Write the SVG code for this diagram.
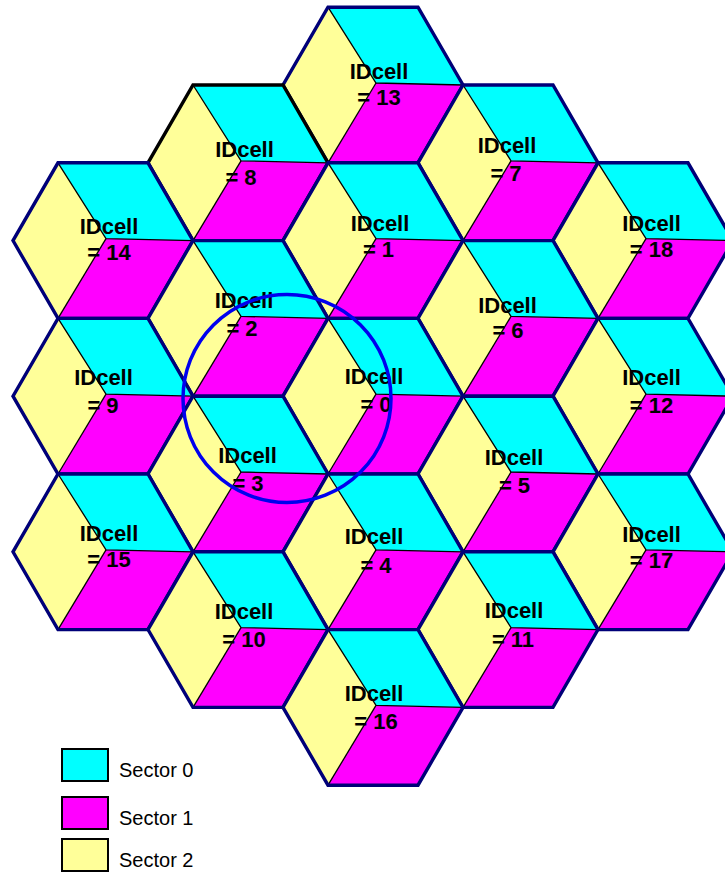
<svg xmlns="http://www.w3.org/2000/svg" xmlns:xlink="http://www.w3.org/1999/xlink" width="725" height="873" viewBox="0 0 725 873">
<style>
.s0{fill:#00FFFF}
.s1{fill:#FF00FF}
.s2{fill:#FFFF99}
.div{fill:none;stroke:#000;stroke-width:1.3}
.ol{stroke:#000078;stroke-width:3.4;stroke-linejoin:miter}
.ol.blk{stroke:#000}
.lbl{font-family:"Liberation Sans",Arial,sans-serif;font-weight:bold;font-size:22px;fill:#000;text-anchor:middle}
.leg{font-family:"Liberation Sans",Arial,sans-serif;font-size:20px;fill:#000}
.legbox{stroke:#000;stroke-width:2}
</style>
<defs>
<g id="sectors">
<polygon class="s0" points="-45,-77.8 45,-77.8 90,0 3,-2"/>
<polygon class="s1" points="3,-2 90,0 45,77.8 -45,77.8"/>
<polygon class="s2" points="-45,-77.8 3,-2 -45,77.8 -90,0"/>
<polyline class="div" points="-45,-77.8 3,-2 90,0"/>
<line class="div" x1="3" y1="-2" x2="-45" y2="77.8"/>
</g>
<polygon id="hex" fill="none" points="-45,-77.8 45,-77.8 90,0 45,77.8 -45,77.8 -90,0"/>
</defs>
<rect width="725" height="873" fill="#fff"/>
<g id="cells">
<g id="cell13"><use xlink:href="#sectors" x="373" y="85"/><use class="ol" xlink:href="#hex" x="373" y="85"/><text class="lbl" x="379" y="79">IDcell</text><text class="lbl" x="379" y="105">= 13</text></g>
<g id="cell8"><use xlink:href="#sectors" x="238" y="162.8"/><use class="ol blk" xlink:href="#hex" x="238" y="162.8"/><text class="lbl" x="244.5" y="157">IDcell</text><text class="lbl" x="241" y="185">= 8</text></g>
<g id="cell7"><use xlink:href="#sectors" x="508" y="162.8"/><use class="ol" xlink:href="#hex" x="508" y="162.8"/><text class="lbl" x="507" y="153">IDcell</text><text class="lbl" x="506" y="181">= 7</text></g>
<g id="cell14"><use xlink:href="#sectors" x="103" y="240.6"/><use class="ol" xlink:href="#hex" x="103" y="240.6"/><text class="lbl" x="109" y="234">IDcell</text><text class="lbl" x="109" y="260">= 14</text></g>
<g id="cell1"><use xlink:href="#sectors" x="373" y="240.6"/><use class="ol" xlink:href="#hex" x="373" y="240.6"/><text class="lbl" x="380" y="231">IDcell</text><text class="lbl" x="378.5" y="257">= 1</text></g>
<g id="cell18"><use xlink:href="#sectors" x="643" y="240.6"/><use class="ol" xlink:href="#hex" x="643" y="240.6"/><text class="lbl" x="651.5" y="231">IDcell</text><text class="lbl" x="651.5" y="257">= 18</text></g>
<g id="cell2"><use xlink:href="#sectors" x="238" y="318.4"/><use class="ol" xlink:href="#hex" x="238" y="318.4"/><text class="lbl" x="244" y="308">IDcell</text><text class="lbl" x="242" y="336">= 2</text></g>
<g id="cell6"><use xlink:href="#sectors" x="508" y="318.4"/><use class="ol" xlink:href="#hex" x="508" y="318.4"/><text class="lbl" x="507.5" y="312.5">IDcell</text><text class="lbl" x="508" y="338">= 6</text></g>
<g id="cell9"><use xlink:href="#sectors" x="103" y="396.2"/><use class="ol" xlink:href="#hex" x="103" y="396.2"/><text class="lbl" x="103.5" y="385">IDcell</text><text class="lbl" x="103" y="412.5">= 9</text></g>
<g id="cell0"><use xlink:href="#sectors" x="373" y="396.2"/><use class="ol" xlink:href="#hex" x="373" y="396.2"/><text class="lbl" x="374" y="384">IDcell</text><text class="lbl" x="376" y="412">= 0</text></g>
<g id="cell12"><use xlink:href="#sectors" x="643" y="396.2"/><use class="ol" xlink:href="#hex" x="643" y="396.2"/><text class="lbl" x="651.5" y="385">IDcell</text><text class="lbl" x="651.5" y="412.5">= 12</text></g>
<g id="cell3"><use xlink:href="#sectors" x="238" y="474"/><use class="ol" xlink:href="#hex" x="238" y="474"/><text class="lbl" x="247.5" y="463">IDcell</text><text class="lbl" x="248" y="491">= 3</text></g>
<g id="cell5"><use xlink:href="#sectors" x="508" y="474"/><use class="ol" xlink:href="#hex" x="508" y="474"/><text class="lbl" x="514" y="465">IDcell</text><text class="lbl" x="514.5" y="492.5">= 5</text></g>
<g id="cell15"><use xlink:href="#sectors" x="103" y="551.8"/><use class="ol" xlink:href="#hex" x="103" y="551.8"/><text class="lbl" x="109" y="541">IDcell</text><text class="lbl" x="109" y="566.5">= 15</text></g>
<g id="cell4"><use xlink:href="#sectors" x="373" y="551.8"/><use class="ol" xlink:href="#hex" x="373" y="551.8"/><text class="lbl" x="374" y="544">IDcell</text><text class="lbl" x="376" y="572.5">= 4</text></g>
<g id="cell17"><use xlink:href="#sectors" x="643" y="551.8"/><use class="ol" xlink:href="#hex" x="643" y="551.8"/><text class="lbl" x="651.5" y="541.5">IDcell</text><text class="lbl" x="651.5" y="568">= 17</text></g>
<g id="cell10"><use xlink:href="#sectors" x="238" y="629.6"/><use class="ol" xlink:href="#hex" x="238" y="629.6"/><text class="lbl" x="244" y="618.5">IDcell</text><text class="lbl" x="244" y="647">= 10</text></g>
<g id="cell11"><use xlink:href="#sectors" x="508" y="629.6"/><use class="ol" xlink:href="#hex" x="508" y="629.6"/><text class="lbl" x="514" y="618">IDcell</text><text class="lbl" x="513" y="646.5">= 11</text></g>
<g id="cell16"><use xlink:href="#sectors" x="373" y="707.4"/><use class="ol" xlink:href="#hex" x="373" y="707.4"/><text class="lbl" x="374" y="701">IDcell</text><text class="lbl" x="376" y="729">= 16</text></g>
</g>
<g id="connectors"></g>
<circle id="coverage" cx="287" cy="398.5" r="104" fill="none" stroke="#0000EE" stroke-width="3.5"/>
<g id="legend">
<g id="leg0"><rect class="legbox s0" x="62" y="749" width="46" height="32"/><text class="leg" x="119" y="777">Sector 0</text></g>
<g id="leg1"><rect class="legbox s1" x="62" y="797" width="46" height="32"/><text class="leg" x="119" y="825">Sector 1</text></g>
<g id="leg2"><rect class="legbox s2" x="62" y="839" width="46" height="32"/><text class="leg" x="119" y="867">Sector 2</text></g>
</g>
</svg>
